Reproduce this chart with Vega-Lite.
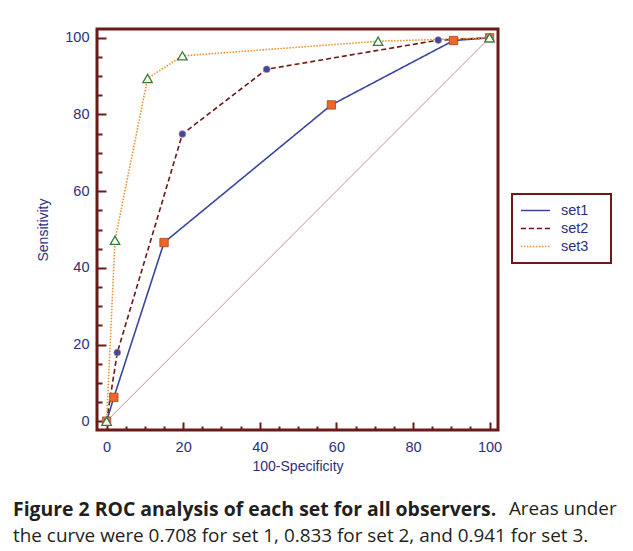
{
  "$schema": "https://vega.github.io/schema/vega-lite/v6.json",
  "width": 401,
  "height": 401,
  "autosize": {"type": "none"},
  "padding": {"left": 97, "top": 29, "right": 135, "bottom": 121},
  "background": "white",
  "datasets": {
    "roc": [
      {"set": "set1", "x": 0, "y": 0},
      {"set": "set1", "x": 1.9, "y": 6.2},
      {"set": "set1", "x": 15, "y": 46.6},
      {"set": "set1", "x": 58.7, "y": 82.5},
      {"set": "set1", "x": 90.6, "y": 99.3},
      {"set": "set1", "x": 100, "y": 100},
      {"set": "set2", "x": 0, "y": 0},
      {"set": "set2", "x": 2.8, "y": 17.9},
      {"set": "set2", "x": 19.8, "y": 74.9},
      {"set": "set2", "x": 41.8, "y": 91.8},
      {"set": "set2", "x": 86.6, "y": 99.4},
      {"set": "set2", "x": 100, "y": 100},
      {"set": "set3", "x": 0, "y": 0},
      {"set": "set3", "x": 2.2, "y": 47.2},
      {"set": "set3", "x": 10.7, "y": 89.4},
      {"set": "set3", "x": 19.8, "y": 95.3},
      {"set": "set3", "x": 70.9, "y": 99.1},
      {"set": "set3", "x": 100, "y": 100}
    ],
    "chance": [
      {"x": 0, "y": 0},
      {"x": 100, "y": 100}
    ]
  },
  "title": {
    "text": "Figure 2 ROC analysis of each set for all observers.",
    "subtitle": [
      "\u200c\u2003\u2003\u2003\u2003\u2003\u2003\u2003\u2003\u2003\u2003\u2003\u2003\u2003\u2003\u2003\u2003\u2003\u2003\u2003\u2003\u2003\u2003\u2003\u2003\u2003\u2003\u2005Areas under",
      "the curve were 0.708 for set 1, 0.833 for set 2, and 0.941 for set 3."
    ],
    "orient": "bottom",
    "anchor": "start",
    "frame": "group",
    "dx": -84,
    "offset": 27,
    "font": "Open Sans",
    "fontSize": 19.4,
    "fontWeight": "bold",
    "color": "#231f20",
    "subtitleFont": "Open Sans",
    "subtitleFontSize": 18.9,
    "subtitleFontWeight": "normal",
    "subtitleColor": "#231f20",
    "subtitleLineHeight": 27,
    "subtitlePadding": -20
  },
  "config": {
    "view": {"stroke": "#6b1a1a", "strokeWidth": 3},
    "axis": {
      "domain": false,
      "grid": false,
      "labelFont": "Liberation Sans",
      "labelFontSize": 14.5,
      "labelColor": "#2c2f7c",
      "titleFont": "Liberation Sans",
      "titleFontSize": 14,
      "titleFontWeight": "normal",
      "titleColor": "#2c2f7c",
      "tickColor": "#6b1a1a",
      "tickWidth": 2
    },
    "legend": {
      "labelFont": "Liberation Sans",
      "labelFontSize": 14.5,
      "labelColor": "#2c2f7c"
    }
  },
  "encoding": {
    "x": {
      "field": "x",
      "type": "quantitative",
      "scale": {"domain": [-2.5, 102.2], "nice": false, "zero": false},
      "axis": {
        "title": "100-Specificity",
        "values": [0, 5, 10, 15, 20, 25, 30, 35, 40, 45, 50, 55, 60, 65, 70, 75, 80, 85, 90, 95, 100],
        "labelExpr": "datum.value % 20 === 0 ? datum.label : ''",
        "tickSize": {"condition": {"test": "datum.value % 20 === 0", "value": -8}, "value": -4},
        "labelPadding": 18,
        "titlePadding": 6
      }
    },
    "y": {
      "field": "y",
      "type": "quantitative",
      "scale": {"domain": [-2.3, 102.3], "nice": false, "zero": false},
      "axis": {
        "title": "Sensitivity",
        "values": [0, 5, 10, 15, 20, 25, 30, 35, 40, 45, 50, 55, 60, 65, 70, 75, 80, 85, 90, 95, 100],
        "labelExpr": "datum.value % 20 === 0 ? datum.label : ''",
        "tickSize": {"condition": {"test": "datum.value % 20 === 0", "value": -9}, "value": -5},
        "labelPadding": 17,
        "titlePadding": 14
      }
    }
  },
  "layer": [
    {
      "data": {"name": "chance"},
      "mark": {"type": "line", "color": "#b89494", "strokeWidth": 1}
    },
    {
      "data": {"name": "roc"},
      "mark": {"type": "line", "strokeWidth": 1.6},
      "encoding": {
        "stroke": {
          "field": "set",
          "type": "nominal",
          "scale": {"domain": ["set1", "set2", "set3"], "range": ["#3a46a0", "#6e1616", "#e8902a"]},
          "legend": {
            "title": null,
            "orient": "none",
            "legendX": 415,
            "legendY": 165,
            "strokeColor": "#6b1a1a",
            "padding": 8,
            "rowPadding": 1,
            "clipHeight": 17,
            "labelOffset": 10,
            "labelExpr": "datum.label + '\u2003\u200c'",
            "symbolType": "stroke",
            "symbolSize": 850,
            "symbolStrokeWidth": 1.6,
            "encode": {"legend": {"update": {"strokeWidth": {"value": 2}}}}
          }
        },
        "strokeDash": {
          "field": "set",
          "type": "nominal",
          "scale": {"domain": ["set1", "set2", "set3"], "range": [[1, 0], [5, 3], [1.5, 1.5]]},
          "legend": {
            "title": null,
            "orient": "none",
            "legendX": 415,
            "legendY": 165,
            "strokeColor": "#6b1a1a",
            "padding": 8,
            "rowPadding": 1,
            "clipHeight": 17,
            "labelOffset": 10,
            "labelExpr": "datum.label + '\u2003\u200c'",
            "symbolType": "stroke",
            "symbolSize": 850,
            "symbolStrokeWidth": 1.6,
            "encode": {"legend": {"update": {"strokeWidth": {"value": 2}}}}
          }
        }
      }
    },
    {
      "data": {"name": "roc"},
      "transform": [{"filter": "datum.set === 'set1'"}],
      "mark": {"type": "point", "shape": "square", "filled": true, "fill": "#f0662a", "stroke": "#a8441a", "strokeWidth": 0.8, "size": 70, "opacity": 1}
    },
    {
      "data": {"name": "roc"},
      "transform": [{"filter": "datum.set === 'set2'"}],
      "mark": {"type": "point", "shape": "circle", "filled": true, "fill": "#3a48a8", "stroke": "#e8b070", "strokeWidth": 0.6, "size": 50, "opacity": 1}
    },
    {
      "data": {"name": "roc"},
      "transform": [{"filter": "datum.set === 'set3'"}],
      "mark": {"type": "point", "shape": "triangle-up", "filled": true, "fill": "#ffffff", "stroke": "#3a7d3a", "strokeWidth": 1.3, "size": 90, "opacity": 1}
    }
  ]
}
